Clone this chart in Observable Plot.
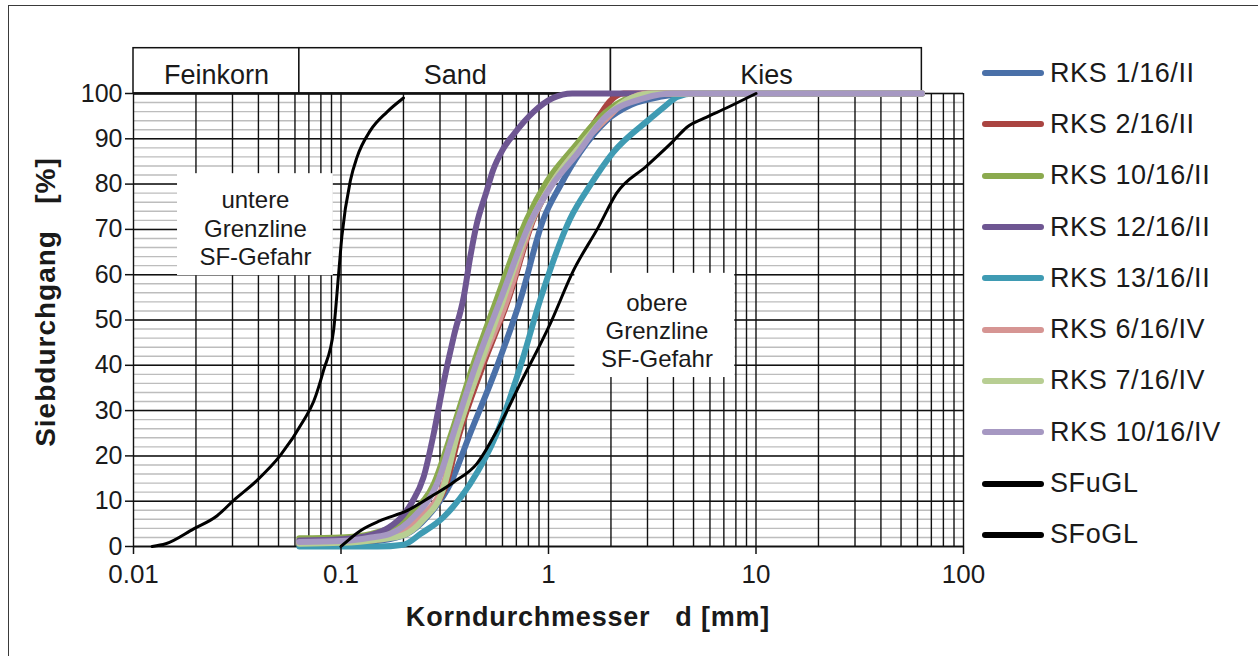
<!DOCTYPE html>
<html><head><meta charset="utf-8">
<script src="https://cdn.jsdelivr.net/npm/d3@7"></script>
<script src="https://cdn.jsdelivr.net/npm/@observablehq/plot@0.6"></script>
<style>
html,body{margin:0;padding:0;background:#fff;overflow:hidden;width:1258px;height:656px;}
body{position:relative;font-family:"Liberation Sans",Arial,sans-serif;color:#1a1a1a;}
#chart{position:absolute;left:0;top:0;}
#frame{position:absolute;left:8px;top:5px;width:1300px;height:700px;border:1.5px solid #3a3a3a;pointer-events:none;}
#legend{position:absolute;left:982px;top:47.5px;}
.row{height:51.3px;display:flex;align-items:center;}
.sw{width:62px;height:6px;border-radius:3px;margin-right:6px;}
.lab{font-size:27px;letter-spacing:0.6px;line-height:1;}
.title{position:absolute;font-weight:bold;white-space:pre;line-height:27px;}
#xt{font-size:27px;letter-spacing:0.8px;left:588px;top:604px;transform:translateX(-50%);}
#yt{font-size:28px;letter-spacing:1px;left:45px;top:302px;transform:translate(-50%,-50%) rotate(-90deg);}
</style></head><body>
<div id="chart"></div>
<div id="legend"></div>
<div class="title" id="xt">Korndurchmesser   d [mm]</div>
<div class="title" id="yt">Siebdurchgang   [%]</div>
<div id="frame"></div>
<script>
// ---- axes / labels ----
const xTicks = [0.01, 0.1, 1, 10, 100];
const xTickLabels = ["0.01", "0.1", "1", "10", "100"];
const yTicks = [0, 10, 20, 30, 40, 50, 60, 70, 80, 90, 100];

// ---- soil class bands ----
const bandLabels = ["Feinkorn", "Sand", "Kies"];
const bandFrom = [0.01, 0.063, 2];
const bandTo = [0.063, 2, 63];

// ---- annotation boxes ----
const noteLabels = ["untere\nGrenzline\nSF-Gefahr", "obere\nGrenzline\nSF-Gefahr"];
const noteX1 = [0.0163, 1.34];
const noteX2 = [0.0918, 7.9];
const noteY1 = [59.8, 37.3];
const noteY2 = [82.3, 60.3];
const noteX = [0.0387, 3.33];
const noteY = [70.4, 47.7];

// ---- series ----
const seriesNames = ["RKS 1/16/II", "RKS 2/16/II", "RKS 10/16/II", "RKS 12/16/II", "RKS 13/16/II",
  "RKS 6/16/IV", "RKS 7/16/IV", "RKS 10/16/IV", "SFuGL", "SFoGL"];
const seriesColors = ["#4A70A8", "#AA4441", "#8BAA4E", "#6E5692", "#3F9BB3",
  "#D69593", "#B8CE93", "#A698C2", "#000000", "#000000"];

const dRKS1 = [0.063, 0.1, 0.15, 0.208, 0.26, 0.336, 0.419, 0.563, 0.73, 0.946, 1.14, 1.42, 1.9, 2.5, 3.5, 5, 63];
const pRKS1 = [0.5, 0.6, 1.2, 2.8, 6.5, 13.8, 24.9, 39.6, 54.3, 72.3, 79.7, 87, 94, 97.5, 99.3, 100, 100];

const dRKS2 = [0.063, 0.1, 0.15, 0.2, 0.25, 0.32, 0.37, 0.48, 0.64, 0.85, 1.05, 1.4, 1.75, 2.0, 2.3, 63];
const pRKS2 = [0.5, 0.7, 1.5, 3.0, 6.5, 13.5, 24.5, 39.6, 54.5, 72.5, 80.5, 88.5, 95, 98.5, 100, 100];

const dRKS10 = [0.063, 0.1, 0.14, 0.18, 0.22, 0.28, 0.34, 0.43, 0.56, 0.787, 0.98, 1.32, 1.75, 2.3, 3.0, 63];
const pRKS10 = [1.8, 2.0, 2.8, 4.5, 7.5, 13.8, 24.9, 39.6, 54.3, 72.3, 80.5, 88, 94.5, 98.5, 100, 100];

const dRKS12 = [0.063, 0.1, 0.13, 0.17, 0.2, 0.22, 0.25, 0.28, 0.31, 0.35, 0.39, 0.42, 0.45, 0.5, 0.54, 0.6, 0.68, 0.85, 1.05, 1.3, 63];
const pRKS12 = [1.3, 1.6, 2.2, 4.2, 7, 9.8, 15.3, 25, 35.5, 46.5, 55, 64, 71, 78, 83, 87.5, 91, 96, 99, 100, 100];

const dRKS13 = [0.063, 0.15, 0.2, 0.242, 0.312, 0.419, 0.563, 0.73, 0.92, 1.27, 1.586, 2.05, 3.08, 3.6, 4.2, 5, 63];
const pRKS13 = [0, 0, 0.4, 2.8, 6.5, 13.8, 24.9, 39.6, 55, 72.3, 79.7, 87, 94.4, 97, 99.3, 100, 100];

const dRKS6 = [0.063, 0.1, 0.15, 0.2, 0.242, 0.312, 0.362, 0.469, 0.63, 0.84, 1.05, 1.4, 1.9, 2.4, 3.0, 63];
const pRKS6 = [0.8, 1.0, 1.8, 3.2, 6.5, 13.8, 24.9, 39.6, 54.3, 72.3, 80.5, 88, 94.4, 98.5, 100, 100];

const dRKS7 = [0.063, 0.1, 0.15, 0.2, 0.25, 0.31, 0.36, 0.46, 0.6, 0.83, 1.05, 1.4, 1.9, 2.5, 3.2, 63];
const pRKS7 = [0.6, 0.8, 1.5, 2.5, 6, 12.5, 24, 39, 54, 72, 80.5, 88, 95, 99, 100, 100];

const dRKS10IV = [0.063, 0.1, 0.14, 0.1727, 0.224, 0.29, 0.348, 0.443, 0.585, 0.831, 1.037, 1.393, 1.84, 2.9, 4.0, 63];
const pRKS10IV = [1.0, 1.2, 2.0, 2.8, 6.5, 13.8, 24.9, 39.6, 54.3, 72.3, 79.7, 87, 94.4, 99, 100, 100];

const dSFuGL = [0.0123, 0.0143, 0.0195, 0.0253, 0.0304, 0.0394, 0.051, 0.066, 0.0738, 0.0824, 0.0921, 0.0974, 0.101, 0.111, 0.1194, 0.1384, 0.1665, 0.2];
const pSFuGL = [0, 0.6, 3.9, 6.8, 10.2, 14.6, 20.1, 27.8, 32, 38.9, 47.7, 60.2, 68.5, 80.8, 85.9, 91.8, 95.9, 99];

const dSFoGL = [0.1, 0.124, 0.1546, 0.208, 0.269, 0.349, 0.452, 0.563, 0.73, 1.02, 1.318, 1.74, 2.13, 2.97, 3.99, 4.63, 5.6, 7.2, 10];
const pSFoGL = [0, 3.5, 5.7, 7.9, 10.9, 14.2, 18.3, 25.5, 35.9, 49.2, 60.9, 70.5, 78, 84, 89.5, 92.5, 94.5, 96.8, 100];

const seriesD = [dRKS1, dRKS2, dRKS10, dRKS12, dRKS13, dRKS6, dRKS7, dRKS10IV, dSFuGL, dSFoGL];
const seriesP = [pRKS1, pRKS2, pRKS10, pRKS12, pRKS13, pRKS6, pRKS7, pRKS10IV, pSFuGL, pSFoGL];

const bands = bandLabels.map((l, i) => ({label: l, x1: bandFrom[i], x2: bandTo[i], xm: Math.sqrt(bandFrom[i] * bandTo[i])}));
const notes = noteLabels.map((l, i) => ({label: l, x1: noteX1[i], x2: noteX2[i], y1: noteY1[i], y2: noteY2[i], x: noteX[i], y: noteY[i]}));

const lineMarks = seriesNames.map((name, i) => {
  const rows = seriesD[i].map((d, j) => ({d, p: seriesP[i][j]}));
  const black = seriesColors[i] === "#000000";
  return Plot.line(rows, {x: "d", y: "p", stroke: seriesColors[i], strokeWidth: black ? 3 : 6,
    curve: "monotone-x", strokeLinecap: "round", strokeLinejoin: "round"});
});

const chart = Plot.plot({
  width: 1000, height: 640,
  marginLeft: 133, marginRight: 37, marginTop: 93, marginBottom: 94,
  style: {background: "transparent", fontFamily: "'Liberation Sans', Arial, sans-serif", color: "#1a1a1a", overflow: "visible"},
  x: {type: "log", domain: [0.01, 100]},
  y: {domain: [0, 100]},
  marks: [
    Plot.gridY({ticks: d3.range(0, 101, 2), stroke: "#bdbdbd", strokeOpacity: 1, strokeWidth: 1.4}),
    Plot.gridX({stroke: "#111", strokeOpacity: 1, strokeWidth: 1.4}),
    Plot.gridY({ticks: yTicks, stroke: "#111", strokeOpacity: 1, strokeWidth: 1.5}),
    Plot.ruleY([0], {stroke: "#111", strokeWidth: 1.5}),
    Plot.rect(notes, {x1: "x1", x2: "x2", y1: "y1", y2: "y2", fill: "white"}),
    Plot.text(notes, {x: "x", y: "y", text: "label", fontSize: 24, lineHeight: 1.17, fill: "#1a1a1a"}),
    Plot.rect(bands, {x1: "x1", x2: "x2", y1: 100, y2: 110, fill: "white", stroke: "#111", strokeWidth: 1.5}),
    Plot.ruleY([100], {x1: 0.01, x2: 63, stroke: "#111", strokeWidth: 2.5}),
    Plot.text(bands, {x: "xm", y: 104, text: "label", fontSize: 27, fill: "#1a1a1a"}),
    ...lineMarks,
    Plot.axisY({ticks: yTicks, tickSize: 8, tickPadding: 3, fontSize: 25, label: null, stroke: "#111", strokeWidth: 1.5}),
    Plot.axisX({ticks: xTicks, tickFormat: d => xTickLabels[xTicks.indexOf(d)], tickSize: 8, tickPadding: 10, fontSize: 26, label: null, stroke: "#111", strokeWidth: 1.5})
  ]
});
document.getElementById("chart").appendChild(chart);

const legend = document.getElementById("legend");
seriesNames.forEach((name, i) => {
  const row = document.createElement("div");
  row.className = "row";
  const sw = document.createElement("div");
  sw.className = "sw";
  sw.style.background = seriesColors[i];
  const lab = document.createElement("span");
  lab.className = "lab";
  lab.textContent = name;
  row.appendChild(sw); row.appendChild(lab);
  legend.appendChild(row);
});
</script>
</body></html>
